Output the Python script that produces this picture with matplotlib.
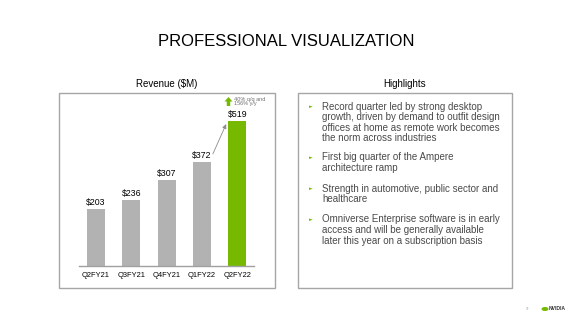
import numpy as np
import matplotlib.pyplot as plt
from matplotlib.patches import Rectangle, Ellipse, FancyArrow

plt.rcParams['font.family'] = ['Liberation Sans', 'DejaVu Sans']

# --- Dados ---
quarters = ["Q2FY21", "Q3FY21", "Q4FY21", "Q1FY22", "Q2FY22"]
revenue = [203, 236, 307, 372, 519]
growth_note = "40% q/q and\n156% y/y"
highlights = [
    "Record quarter led by strong desktop\ngrowth, driven by demand to outfit design\noffices at home as remote work becomes\nthe norm across industries",
    "First big quarter of the Ampere\narchitecture ramp",
    "Strength in automotive, public sector and\nhealthcare",
    "Omniverse Enterprise software is in early\naccess and will be generally available\nlater this year on a subscription basis",
]

GREEN = "#76b900"
GRAY_BAR = "#b2b2b2"
TEXT = "#4a4a4a"
W, H = 572, 320


def fx(x):
    return x / W


def fy(y):
    return 1 - y / H


fig = plt.figure(figsize=(W / 100, H / 100), dpi=100)

# --- Titulo ---
fig.text(fx(286), fy(41), "PROFESSIONAL VISUALIZATION", ha="center", va="center",
         fontsize=12, color="black")

# --- Caixas ---
for x0, x1 in [(59, 275), (298, 512)]:
    fig.patches.append(Rectangle((fx(x0), fy(288)), fx(x1) - fx(x0), fy(93) - fy(288),
                                 transform=fig.transFigure, fill=False,
                                 edgecolor="#a6a6a6", linewidth=1.0))
fig.text(fx(167), fy(84), "Revenue ($M)", ha="center", va="center", fontsize=7, color="black")
fig.text(fx(405), fy(84), "Highlights", ha="center", va="center", fontsize=7, color="black")

# --- Grafico de barras ---
ax = fig.add_axes([fx(79), fy(266), fx(254) - fx(79), fy(100) - fy(266)])
x = np.arange(len(quarters))
bw = 0.51
colors = [GRAY_BAR] * (len(revenue) - 1) + [GREEN]
ax.bar(x, revenue, width=bw, color=colors, zorder=2)
for xi, v in zip(x, revenue):
    ax.text(xi, v + 8, f"${v}", ha="center", va="bottom", fontsize=6.3, color="black")
ax.set_xlim(-0.48, 4.47)
ax.set_ylim(0, 594)
ax.set_xticks(x)
ax.set_xticklabels(quarters, fontsize=5.4, color="black")
ax.tick_params(axis="x", length=0, pad=4)
ax.set_yticks([])
for s in ["left", "right", "top"]:
    ax.spines[s].set_visible(False)
ax.spines["bottom"].set_color("#a0a0a0")
ax.spines["bottom"].set_linewidth(1.0)
ax.patch.set_alpha(0)

# linha de crescimento
ax.annotate("", xy=(x[4] - bw / 2 - 0.03, revenue[4] - 2),
            xytext=(x[3] + bw / 2 + 0.02, revenue[3] + 20),
            arrowprops=dict(arrowstyle="-|>,head_length=0.25,head_width=0.12",
                            color="#8c8c8c", lw=0.6))
# seta verde
fig.patches.append(FancyArrow(fx(228.5), fy(106), 0, fy(97) - fy(106), width=fx(3.5),
                              head_width=fx(8), head_length=4.5 / H,
                              length_includes_head=True, transform=fig.transFigure,
                              color=GREEN, linewidth=0))
fig.text(fx(234), fy(96.5), growth_note, ha="left", va="top",
         fontsize=4, color="#707070", linespacing=1.0)

# --- Destaques ---
para_y = [107, 158, 189, 220]
for py, txt in zip(para_y, highlights):
    fig.text(fx(311), fy(py), "\u25ba", ha="center", va="center", fontsize=3.5,
             color=GREEN, family=["DejaVu Sans"])
    fig.text(fx(322), fy(py - 5.5), txt, ha="left", va="top", fontsize=7,
             color=TEXT, linespacing=1.08)

# --- Rodape ---
fig.text(fx(527), fy(309), "9", ha="center", va="center", fontsize=3, color="#9a9a9a")
fig.patches.append(Ellipse((fx(545), fy(309)), fx(7), 4 / H, transform=fig.transFigure,
                           facecolor=GREEN, edgecolor="none"))
fig.text(fx(549), fy(309), "NVIDIA", ha="left", va="center", fontsize=3.6,
         color="#333333", fontweight="bold")

fig.savefig("out.png", dpi=100)
